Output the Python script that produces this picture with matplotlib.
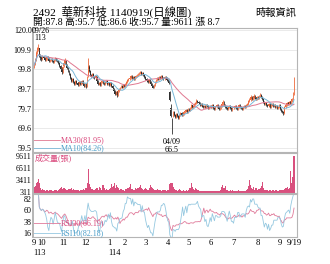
import numpy as np
import pandas as pd
import matplotlib
matplotlib.use("Agg")
import matplotlib.pyplot as plt

plt.rcParams['font.family'] = ['Liberation Serif', 'Noto Sans CJK TC']

# trading days per month, Sep 2024 .. 19 Sep 2025
month_labels = ['9', '10', '11', '12', '1', '2', '3', '4', '5', '6', '7', '8', '9']
month_days = [7, 21, 21, 22, 15, 19, 21, 20, 21, 21, 23, 21, 14]

close = [102.0, 104.5, 108.0, 110.5, 111.0, 106.5, 105.5,  # Sep
         105.0, 106.0, 105.5, 104.5, 105.0, 106.0, 105.5, 104.0, 104.5, 105.0, 104.0, 103.5, 104.5, 105.5, 104.5, 104.0, 103.0, 101.5, 100.0, 98.5, 101.0,  # Oct
         103.0, 104.5, 102.0, 100.5, 99.0, 97.5, 95.5, 94.0, 95.0, 93.5, 92.5, 94.0, 93.0, 92.0, 93.5, 92.5, 93.0, 94.0, 92.5, 91.5, 92.5,  # Nov
         91.0, 96.0, 101.5, 99.0, 97.0, 96.5, 97.5, 96.0, 95.5, 96.5, 94.0, 92.5, 93.0, 92.0, 93.5, 94.0, 93.0, 92.5, 93.5, 94.0, 92.5, 93.0,  # Dec
         92.0, 93.0, 91.5, 90.0, 88.5, 87.0, 88.0, 86.5, 88.5, 89.5, 90.5, 91.5, 90.5, 92.0, 91.5,  # Jan
         92.5, 93.5, 94.5, 95.0, 95.5, 96.5, 95.5, 96.0, 95.0, 96.0, 96.5, 97.0, 97.5, 98.0, 98.5, 97.5, 98.0, 97.0, 96.0,  # Feb
         95.0, 94.0, 93.5, 94.5, 93.5, 92.5, 91.5, 90.5, 92.0, 93.5, 94.5, 95.5, 95.0, 96.0, 95.5, 96.5, 95.5, 95.0, 96.0, 95.5, 94.5,  # Mar
         94.0, 93.0, 84.0, 76.0, 71.5, 78.0, 76.5, 75.5, 77.0, 76.0, 75.0, 76.5, 77.5, 76.5, 77.0, 78.0, 78.5, 79.0, 78.0, 79.5,  # Apr
         79.0, 80.0, 81.5, 80.5, 81.0, 82.0, 82.5, 83.5, 83.0, 82.5, 81.5, 82.0, 81.0, 80.5, 81.0, 80.5, 81.5, 81.0, 80.0, 80.5, 81.0,  # May
         80.5, 81.5, 80.0, 79.5, 80.5, 81.5, 80.5, 79.5, 80.0, 81.0, 82.0, 83.0, 81.5, 80.5, 80.0, 79.5, 80.5, 81.0, 80.0, 79.0, 80.0,  # Jun
         80.5, 81.0, 80.0, 79.5, 80.5, 81.5, 80.5, 80.0, 79.5, 80.5, 81.0, 80.5, 81.5, 82.0, 83.5, 84.0, 85.5, 84.5, 85.0, 86.0, 85.0, 84.5, 85.5,  # Jul
         85.0, 86.0, 86.5, 85.5, 84.5, 83.0, 82.0, 82.5, 81.5, 81.0, 82.0, 80.5, 81.5, 82.0, 81.0, 81.5, 80.5, 81.0, 80.0, 80.5, 81.5,  # Aug
         79.5, 78.5, 78.0, 77.5, 80.5, 81.5, 82.5, 82.0, 83.0, 82.5, 83.5, 84.5, 87.0, 95.7]  # Sep

open_ = [101.0, 102.5, 104.5, 108.5, 110.0, 110.5, 106.0,
         105.5, 105.0, 106.0, 105.5, 104.5, 105.0, 106.0, 105.5, 104.0, 104.5, 105.0, 104.0, 103.5, 104.5, 105.5, 104.5, 104.0, 103.0, 101.5, 100.0, 98.5,
         101.5, 103.0, 104.0, 102.0, 100.5, 99.0, 97.5, 95.5, 94.0, 95.0, 93.5, 92.5, 94.0, 93.0, 92.0, 93.5, 92.5, 93.0, 94.0, 92.5, 91.5,
         92.5, 91.5, 96.5, 101.0, 99.0, 97.0, 96.5, 97.5, 96.0, 95.5, 96.5, 94.0, 92.5, 93.0, 92.0, 93.5, 94.0, 93.0, 92.5, 93.5, 94.0, 92.5,
         93.0, 92.0, 93.0, 91.5, 90.0, 88.5, 87.0, 88.0, 86.5, 88.5, 89.5, 90.5, 91.5, 90.5, 92.0,
         91.5, 92.5, 93.5, 94.5, 95.0, 95.5, 96.5, 95.5, 96.0, 95.0, 96.0, 96.5, 97.0, 97.5, 98.0, 98.5, 97.5, 98.0, 97.0,
         96.0, 95.0, 94.0, 93.5, 94.5, 93.5, 92.5, 91.5, 90.5, 92.0, 93.5, 94.5, 95.5, 95.0, 96.0, 95.5, 96.5, 95.5, 95.0, 96.0, 95.5,
         94.5, 94.0, 88.0, 80.0, 74.0, 76.0, 78.0, 76.5, 75.5, 77.0, 76.0, 75.0, 76.5, 77.5, 76.5, 77.0, 78.0, 78.5, 79.0, 78.0,
         79.5, 79.0, 80.0, 81.5, 80.5, 81.0, 82.0, 82.5, 83.5, 83.0, 82.5, 81.5, 82.0, 81.0, 80.5, 81.0, 80.5, 81.5, 81.0, 80.0, 80.5,
         81.0, 80.5, 81.5, 80.0, 79.5, 80.5, 81.5, 80.5, 79.5, 80.0, 81.0, 82.0, 83.0, 81.5, 80.5, 80.0, 79.5, 80.5, 81.0, 80.0, 79.0,
         80.0, 80.5, 81.0, 80.0, 79.5, 80.5, 81.5, 80.5, 80.0, 79.5, 80.5, 81.0, 80.5, 81.5, 82.0, 83.5, 84.0, 85.5, 84.5, 85.0, 86.0, 85.0, 84.5,
         85.5, 85.0, 86.0, 86.5, 85.5, 84.5, 83.0, 82.0, 82.5, 81.5, 81.0, 82.0, 80.5, 81.5, 82.0, 81.0, 81.5, 80.5, 81.0, 80.0, 80.5,
         81.5, 79.5, 78.5, 78.0, 77.5, 80.5, 81.5, 82.5, 82.0, 83.0, 82.5, 83.5, 84.5, 87.8]

high = [103.0, 105.5, 109.0, 111.5, 113.0, 111.0, 107.5,
        106.5, 107.0, 106.5, 106.0, 105.5, 106.5, 106.5, 106.0, 105.0, 105.5, 105.5, 104.5, 105.0, 106.0, 105.5, 105.0, 104.5, 103.5, 102.0, 100.5, 101.5,
        103.5, 105.5, 104.5, 102.5, 101.0, 99.5, 98.0, 96.0, 95.5, 95.5, 94.0, 94.5, 94.5, 93.5, 94.0, 94.0, 93.5, 94.5, 94.5, 93.0, 93.0,
        93.0, 96.5, 105.5, 102.0, 99.5, 97.5, 98.0, 98.0, 96.5, 97.0, 96.5, 94.5, 93.5, 93.5, 94.0, 94.5, 94.5, 93.5, 94.0, 94.5, 94.5, 93.5,
        93.5, 93.5, 93.5, 92.0, 90.5, 89.0, 88.5, 88.5, 89.0, 90.0, 91.0, 92.0, 92.0, 92.5, 92.5,
        93.0, 94.0, 95.0, 95.5, 96.0, 97.0, 97.0, 96.5, 96.5, 96.5, 97.0, 97.5, 98.0, 98.5, 99.0, 99.0, 98.5, 98.5, 97.5,
        96.5, 95.5, 94.5, 95.0, 95.0, 94.0, 93.0, 92.0, 92.5, 94.0, 95.0, 96.0, 96.0, 96.5, 96.5, 97.0, 97.0, 96.0, 96.5, 96.5, 96.0,
        95.0, 94.5, 88.5, 82.0, 75.0, 78.5, 78.5, 77.0, 77.5, 77.5, 76.5, 77.0, 78.0, 78.0, 77.5, 78.5, 79.0, 79.5, 79.5, 80.0,
        80.0, 80.5, 82.0, 81.5, 81.5, 82.5, 83.0, 84.5, 84.0, 83.5, 83.0, 82.5, 82.5, 81.5, 81.5, 81.5, 82.0, 82.0, 81.5, 81.0, 81.5,
        81.5, 82.0, 82.0, 80.5, 81.0, 82.0, 82.0, 81.0, 80.5, 81.5, 82.5, 84.0, 83.5, 82.0, 81.0, 80.5, 81.0, 81.5, 81.5, 80.5, 80.5,
        81.0, 81.5, 81.5, 80.5, 81.0, 82.0, 82.0, 81.0, 80.5, 81.0, 81.5, 81.5, 82.0, 82.5, 84.0, 85.0, 86.5, 86.0, 85.5, 87.0, 86.5, 85.5, 86.0,
        86.0, 86.5, 87.5, 87.0, 86.0, 85.0, 83.5, 83.0, 83.0, 82.0, 82.5, 82.5, 82.0, 82.5, 82.5, 82.0, 82.0, 81.5, 81.5, 81.0, 82.0,
        82.0, 80.0, 79.0, 78.5, 81.0, 82.0, 83.0, 83.0, 83.5, 83.5, 84.0, 85.0, 88.0, 95.7]

low = [100.5, 102.0, 104.0, 107.5, 109.0, 106.0, 104.5,
       104.0, 104.5, 105.0, 104.0, 104.0, 104.5, 105.0, 103.5, 103.5, 104.0, 103.5, 103.0, 103.0, 104.0, 104.0, 103.5, 102.5, 101.0, 99.5, 97.5, 98.0,
       101.0, 102.5, 101.5, 100.0, 98.5, 97.0, 95.0, 93.5, 93.5, 93.0, 92.0, 92.0, 92.5, 91.5, 91.5, 92.0, 92.0, 92.5, 92.0, 91.0, 91.0,
       90.5, 91.0, 96.0, 98.5, 96.5, 96.0, 96.0, 95.5, 95.0, 95.0, 93.5, 92.0, 92.0, 91.5, 91.5, 93.0, 92.5, 92.0, 92.0, 93.0, 92.0, 92.0,
       91.5, 91.5, 91.0, 89.5, 88.0, 86.5, 86.5, 85.5, 86.0, 88.0, 89.0, 90.0, 90.0, 90.0, 91.0,
       91.0, 92.0, 93.0, 94.0, 94.5, 95.0, 95.0, 95.0, 94.5, 94.5, 95.5, 96.0, 96.5, 97.0, 97.5, 97.0, 97.0, 96.5, 95.5,
       94.5, 93.5, 93.0, 93.0, 93.0, 92.0, 91.0, 90.0, 90.0, 91.5, 93.0, 94.0, 94.5, 94.5, 95.0, 95.0, 95.0, 94.5, 94.5, 95.0, 94.0,
       93.5, 92.5, 83.5, 75.5, 66.5, 75.5, 76.0, 75.0, 75.0, 75.5, 74.5, 74.5, 76.0, 76.0, 76.0, 76.5, 77.5, 78.0, 77.5, 77.5,
       78.5, 78.5, 79.5, 80.0, 80.0, 80.5, 81.5, 82.0, 82.5, 82.0, 81.0, 81.0, 80.5, 80.0, 80.0, 80.0, 80.0, 80.5, 79.5, 79.5, 80.0,
       80.0, 80.0, 79.5, 79.0, 79.0, 80.0, 80.0, 79.0, 79.0, 79.5, 80.5, 81.5, 81.0, 80.0, 79.5, 79.0, 79.0, 80.0, 79.5, 78.5, 78.5,
       79.5, 80.0, 79.5, 79.0, 79.0, 80.0, 80.0, 79.5, 79.0, 79.0, 80.0, 80.0, 80.0, 81.0, 81.5, 83.0, 83.5, 84.0, 84.0, 84.5, 84.5, 84.0, 84.0,
       84.5, 84.5, 85.5, 85.0, 84.0, 82.5, 81.5, 81.5, 81.0, 80.5, 80.5, 80.0, 80.0, 81.0, 80.5, 80.5, 80.0, 80.0, 79.5, 79.5, 80.0,
       79.0, 78.0, 77.5, 76.5, 77.0, 80.0, 81.0, 81.5, 81.5, 82.0, 82.0, 83.0, 84.0, 86.6]

volume = [1500, 1800, 2500, 3000, 3700, 2600, 1200,
          900, 1100, 800, 700, 650, 900, 750, 600, 700, 800, 650, 600, 700, 900, 700, 650, 800, 1000, 1300, 1500, 1100,
          1200, 1400, 1000, 900, 850, 1000, 1100, 1300, 900, 1000, 800, 900, 700, 750, 800, 650, 700, 900, 800, 950, 750,
          1200, 2600, 6200, 2400, 1500, 1100, 1000, 900, 800, 1000, 1200, 1300, 900, 1600, 1200, 900, 2200, 1400, 800, 1000, 900, 800,
          1000, 1300, 2300, 1600, 1900, 2500, 1200, 2000, 1500, 1200, 900, 1000, 800, 700, 600,
          1100, 1000, 1300, 1200, 1500, 2300, 1100, 1000, 900, 800, 1200, 1100, 1400, 1600, 2100, 1300, 1000, 900, 1000,
          1200, 1000, 900, 800, 1400, 2000, 1600, 1300, 1100, 900, 800, 1000, 900, 700, 800, 600, 700, 900, 800, 700, 650,
          800, 900, 2300, 2600, 2500, 1600, 1000, 800, 700, 600, 700, 1000, 800, 600, 500, 700, 600, 500, 700, 600,
          900, 1200, 2700, 1500, 1000, 900, 1300, 1100, 800, 700, 600, 500, 600, 500, 400, 500, 400, 500, 450, 400, 500,
          400, 500, 450, 400, 500, 450, 400, 500, 600, 700, 1500, 2000, 1400, 1900, 900, 700, 600, 500, 800, 600, 700,
          500, 600, 500, 400, 500, 700, 600, 500, 450, 600, 500, 600, 800, 1000, 1800, 3400, 2200, 1300, 1000, 1500, 900, 1200, 1400,
          900, 1000, 1200, 1800, 3000, 1400, 800, 700, 800, 700, 600, 900, 700, 600, 800, 700, 600, 700, 600, 500, 700,
          800, 700, 900, 800, 1000, 1200, 1300, 1500, 1100, 1300, 5700, 2600, 4100, 9611]

price_ticks = ['59.5', '69.6', '79.7', '89.7', '99.8', '109.9', '120.0']
vol_ticks = [311, 3411, 6511, 9611]
rsi_ticks = [16, 38, 60, 82]

df = pd.DataFrame({'o': open_, 'h': high, 'l': low, 'c': close, 'v': volume})
x = np.arange(len(df))
df['ma10'] = df['c'].rolling(10, min_periods=1).mean()
df['ma30'] = df['c'].rolling(30, min_periods=1).mean()
d = df['c'].diff().fillna(0)
up, dn = d.clip(lower=0), (-d).clip(lower=0)
for n in (10, 30):
    u = up.rolling(n, min_periods=1).mean()
    w = dn.rolling(n, min_periods=1).mean()
    df[f'rsi{n}'] = (100 * u / (u + w)).bfill().fillna(50)

red = '#ee6a3c'
pink = '#d9467a'
blue = '#4a9dc8'
edge = '#b5b5b5'

fig = plt.figure(figsize=(3.3, 2.64), dpi=100)
W, H = 330, 264
def box(top, bot):
    return [33 / W, 1 - bot / H, 264 / W, (bot - top) / H]

ax = fig.add_axes(box(28, 152))
axv = fig.add_axes(box(153, 193), sharex=ax)
axr = fig.add_axes(box(194, 237), sharex=ax)

# candles
upday = df['c'] >= df['o']
cols = np.where(upday, red, '#303030')
ax.vlines(x, df['l'], df['h'], colors=cols, lw=0.6)
body = (df['c'] - df['o']).abs().clip(lower=0.3)
ax.bar(x, body, bottom=np.minimum(df['o'], df['c']), width=0.8, color=cols, linewidth=0)
ax.plot(x, df['ma30'], color='#e07890', lw=0.7)
ax.plot(x, df['ma10'], color='#7ab8d8', lw=0.7)
ax.set_ylim(57.45, 121.0)
ax.set_yticks(np.linspace(59.5, 120.0, 7))
ax.set_yticklabels(price_ticks)
ax.grid(axis='y', color='#e6e6e6', lw=0.6)
ax.text(6, 113.6, '09/26\n113', ha='center', va='bottom', fontsize=5.8, linespacing=0.95, clip_on=False)
ax.text(130, 64.5, '04/09\n66.5', ha='center', va='top', fontsize=5.8, linespacing=0.95)

# MA legend
ax.plot([0, 0.102], [0.097, 0.097], transform=ax.transAxes, color='#e07890', lw=0.6, clip_on=False)
ax.plot([0, 0.102], [0.032, 0.032], transform=ax.transAxes, color='#7ab8d8', lw=0.6, clip_on=False)
ax.text(0.105, 0.097, 'MA30(81.95)', transform=ax.transAxes, color=pink, fontsize=5.8, va='center')
ax.text(0.105, 0.032, 'MA10(84.26)', transform=ax.transAxes, color=blue, fontsize=5.8, va='center')

# volume
axv.bar(x, df['v'], width=1.0, color='#d9507e', linewidth=0)
axv.set_ylim(0, 10500)
axv.set_yticks(vol_ticks)
axv.text(0.008, 0.88, '成交量(張)', transform=axv.transAxes, color=pink, fontsize=5.8, va='center')

# RSI
axr.plot(x, df['rsi30'], color='#e07a9a', lw=0.6)
axr.plot(x, df['rsi10'], color='#95c8e0', lw=0.6)
axr.set_ylim(8.5, 92)
axr.set_yticks(rsi_ticks)
axr.plot([0, 0.102], [0.326, 0.326], transform=axr.transAxes, color='#e07a9a', lw=0.6)
axr.plot([0, 0.102], [0.093, 0.093], transform=axr.transAxes, color='#95c8e0', lw=0.6)
axr.text(0.105, 0.326, 'RSI30(66.19)', transform=axr.transAxes, color=pink, fontsize=5.8, va='center')
axr.text(0.105, 0.093, 'RSI10(82.18)', transform=axr.transAxes, color=blue, fontsize=5.8, va='center')

# month ticks
starts = np.concatenate([[0], np.cumsum(month_days)[:-1]])
ticks = list(starts) + [len(df) - 1]
axr.set_xticks(ticks)
axr.set_xticklabels(month_labels + ['9/19'])
axr.set_xlim(-0.94, len(df) - 1 + 2.8)
axr.text(starts[0] - 1, -0.37, '113', transform=axr.get_xaxis_transform(), fontsize=6, va='center', ha='left')
axr.text(starts[4] - 1.5, -0.37, '114', transform=axr.get_xaxis_transform(), fontsize=6, va='center', ha='left')

for a in (ax, axv, axr):
    a.tick_params(length=0, labelsize=5.8, pad=1)
    for s in a.spines.values():
        s.set_color(edge)
        s.set_linewidth(0.8)
    a.spines['left'].set_linewidth(1.4)
for a in (ax, axv):
    a.tick_params(labelbottom=False)
axr.tick_params(axis='x', pad=1.5, labelsize=6.2)

fig.text(33 / W, 1 - 12 / H, '2492  華新科技 1140919(日線圖)', fontsize=8.2, va='center')
fig.text(33 / W, 1 - 22.5 / H, '開:87.8 高:95.7 低:86.6 收:95.7 量:9611 漲 8.7', fontsize=7, va='center')
fig.text(296 / W, 1 - 13 / H, '時報資訊', fontsize=7.4, va='center', ha='right')

fig.savefig('out.png', dpi=100)
